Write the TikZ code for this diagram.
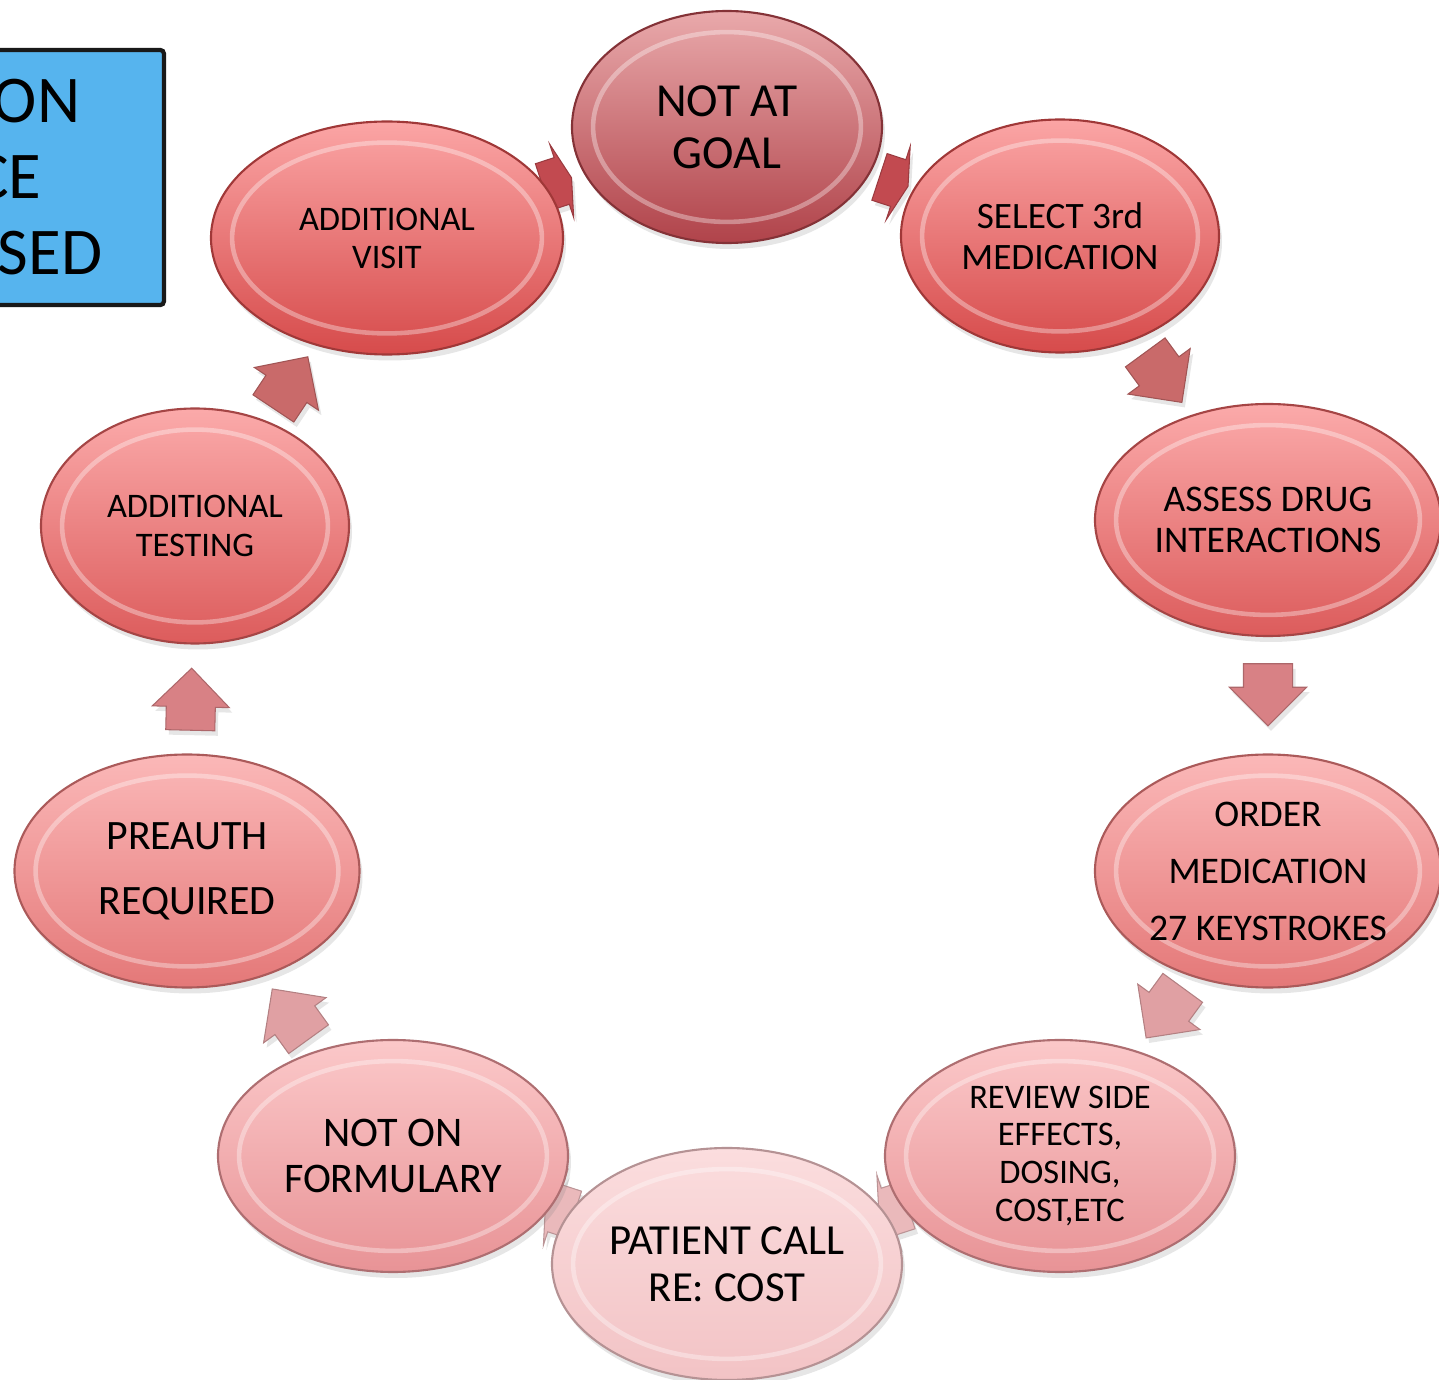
\documentclass[tikz,border=0pt]{standalone}
\usepackage{fontspec}
\setmainfont{Carlito}
\usetikzlibrary{shapes.geometric,shapes.arrows,calc,shadows,backgrounds}

\definecolor{goalT}{HTML}{E9A9AB}
\definecolor{goalB}{HTML}{B0434A}
\definecolor{redT}{HTML}{FBA5A5}
\definecolor{redB}{HTML}{D64B4B}
\definecolor{midT}{HTML}{FBAAAA}
\definecolor{midB}{HTML}{DC5C5C}
\definecolor{softT}{HTML}{FBB8B8}
\definecolor{softB}{HTML}{E47878}
\definecolor{paleT}{HTML}{FBC8C9}
\definecolor{paleB}{HTML}{E89396}
\definecolor{callT}{HTML}{FBDDDE}
\definecolor{callB}{HTML}{F2C3C5}
\definecolor{boxblue}{HTML}{56B4EE}
\definecolor{arrA}{HTML}{C24A50}
\definecolor{arrB}{HTML}{C96A6A}
\definecolor{arrC}{HTML}{D88185}
\definecolor{arrD}{HTML}{E0A0A3}
\definecolor{arrE}{HTML}{EAB9BB}

\tikzset{
  cyclenode/.style 2 args={ellipse, inner sep=0pt, align=center,
    top color=#1, bottom color=#2, draw=#2!75!black, line width=0.6pt,
    drop shadow={opacity=0.2, shadow xshift=0.03cm, shadow yshift=-0.06cm},
    path picture={\draw[white, opacity=0.35, line width=1.3pt]
      let \p1=(path picture bounding box.north east),
          \p2=(path picture bounding box.center) in
      (\p2) ellipse [x radius={\x1-\x2-6pt}, y radius={\y1-\y2-6pt}];}},
  blockarrow/.style={single arrow, inner xsep=0pt, inner ysep=0.24cm,
    minimum height=0.62cm, single arrow head extend=0.14cm,
    fill=#1, draw=#1!80!black, line width=0.3pt, xshift=-0.13cm,
    drop shadow={opacity=0.2, shadow xshift=0.03cm, shadow yshift=-0.05cm}},
  flatarrow/.style={blockarrow=#1, minimum height=0.3cm, xshift=0.1cm,
    single arrow tip angle=150},
}

% arrow half way between two steps, turned towards the second
\newcommand\cyclearrow[5][blockarrow]{%
  \path let \p1=($(#3)-(#2)$), \n1={atan2(\y1,\x1)} in
    node[rotate=\n1, #1=#4] (#5) at ($(#2)!0.5!(#3)$) {};%
}

\begin{document}
\begin{tikzpicture}
  \path[use as bounding box, clip] (0,0) rectangle (14.39,-13.80);

  % box cut off at the left edge
  \node[draw=black!90, line width=1.2pt, rounded corners=1pt, fill=boxblue,
    minimum width=5cm, minimum height=2.55cm, anchor=east] (note) at (1.66,-1.775) {};
  \node[anchor=base east, inner sep=0pt, font=\fontsize{19}{21}\selectfont] (l1) at (0.81,-1.23) {ON};
  \node[anchor=base east, inner sep=0pt, font=\fontsize{19}{21}\selectfont] (l2) at (0.42,-1.99) {CE};
  \node[anchor=base east, inner sep=0pt, font=\fontsize{19}{21}\selectfont] (l3) at (1.03,-2.75) {SED};

  % the cycle
  \node[cyclenode={goalT}{goalB}, minimum width=3.10cm, minimum height=2.32cm,
    font=\fontsize{13.5}{14.8}\selectfont] (goal) at (7.27,-1.27) {NOT AT\\GOAL};
  \node[cyclenode={redT}{redB}, minimum width=3.18cm, minimum height=2.33cm,
    font=\fontsize{10.6}{11.7}\selectfont] (select) at (10.60,-2.36) {SELECT 3rd\\MEDICATION};
  \node[cyclenode={midT}{midB}, minimum width=3.46cm, minimum height=2.32cm,
    font=\fontsize{10.7}{11.7}\selectfont] (assess) at (12.68,-5.20) {ASSESS DRUG\\INTERACTIONS};
  \node[cyclenode={softT}{softB}, minimum width=3.46cm, minimum height=2.33cm,
    font=\fontsize{10.7}{16.2}\selectfont] (order) at (12.68,-8.71) {ORDER\\MEDICATION\\27 KEYSTROKES};
  \node[cyclenode={paleT}{paleB}, minimum width=3.50cm, minimum height=2.32cm,
    font=\fontsize{9.8}{10.8}\selectfont] (review) at (10.60,-11.56) {REVIEW SIDE\\EFFECTS,\\DOSING,\\COST,ETC};
  \node[cyclenode={callT}{callB}, minimum width=3.50cm, minimum height=2.32cm,
    font=\fontsize{12.2}{13.4}\selectfont] (call) at (7.27,-12.64) {PATIENT CALL\\RE: COST};
  \node[cyclenode={paleT}{paleB}, minimum width=3.50cm, minimum height=2.32cm,
    font=\fontsize{12}{13.1}\selectfont] (formulary) at (3.93,-11.56) {NOT ON\\FORMULARY};
  \node[cyclenode={softT}{softB}, minimum width=3.45cm, minimum height=2.33cm,
    font=\fontsize{11.9}{18.5}\selectfont] (preauth) at (1.87,-8.71) {PREAUTH\\REQUIRED};
  \node[cyclenode={midT}{midB}, minimum width=3.08cm, minimum height=2.35cm,
    font=\fontsize{9.8}{11.1}\selectfont] (testing) at (1.95,-5.26) {ADDITIONAL\\TESTING};
  \node[cyclenode={redT}{redB}, minimum width=3.52cm, minimum height=2.33cm,
    font=\fontsize{9.8}{10.8}\selectfont] (visit) at (3.87,-2.38) {ADDITIONAL\\VISIT};

  % arrows behind the steps
  \begin{scope}[on background layer]
    \cyclearrow[flatarrow]{goal}{select}{arrA}{a1}
    \cyclearrow{select}{assess}{arrB}{a2}
    \cyclearrow{assess}{order}{arrC}{a3}
    \cyclearrow{order}{review}{arrD}{a4}
    \cyclearrow[flatarrow]{review}{call}{arrE}{a5}
    \cyclearrow[flatarrow]{call}{formulary}{arrE}{a6}
    \cyclearrow{formulary}{preauth}{arrD}{a7}
    \cyclearrow{preauth}{testing}{arrC}{a8}
    \cyclearrow{testing}{visit}{arrB}{a9}
    \cyclearrow[flatarrow]{visit}{goal}{arrA}{a10}
  \end{scope}
\end{tikzpicture}
\end{document}
